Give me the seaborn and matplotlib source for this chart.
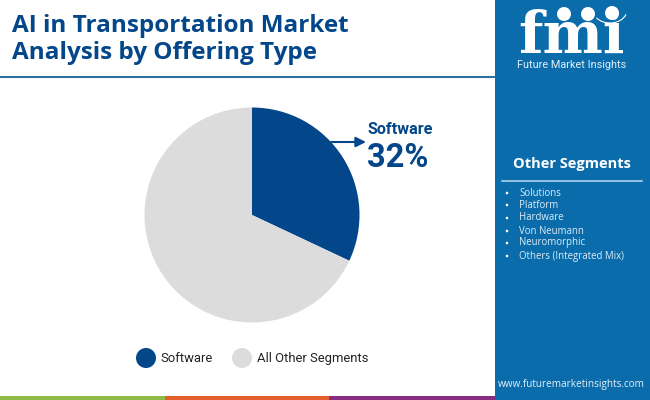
import matplotlib
matplotlib.use("Agg")
import matplotlib.pyplot as plt
from matplotlib.patches import Rectangle, Circle, Ellipse, Arc
import seaborn as sns

categories = ["Software", "All Other Segments"]
shares = [32, 68]
pie_colors = ["#03468a", "#dcdcdc"]
other_segments = ["Solutions", "Platform", "Hardware", "Von Neumann", "Neuromorphic", "Others (Integrated Mix)"]
title_lines = ["AI in Transportation Market", "Analysis by Offering Type"]
NAVY = "#03468a"
PANEL = "#0a6cab"

sns.set_theme(style="white")
plt.rcParams["font.family"] = ["Roboto", "DejaVu Sans"]

fig = plt.figure(figsize=(6.5, 4), dpi=100, facecolor="white")
bg = fig.add_axes([0, 0, 1, 1])
bg.set_xlim(0, 650); bg.set_ylim(400, 0); bg.axis("off")

# pie
axp = fig.add_axes([(252 - 107.5) / 650, 1 - (215 + 107.5) / 400, 215 / 650, 215 / 400])
axp.pie(shares, colors=pie_colors, startangle=90, counterclock=False, radius=1,
        wedgeprops=dict(linewidth=0))
axp.set_xlim(-1, 1); axp.set_ylim(-1, 1); axp.set_aspect("auto")

# panel, rule and footer stripes
bg.add_patch(Rectangle((495, 0), 155, 400, color=PANEL, lw=0))
bg.plot([0, 495], [77, 77], color="#2f6f9f", lw=1.5)
for x, w, c in [(0, 165, "#8fbc45"), (165, 164, "#e35f2c"), (329, 166, "#8a2c82")]:
    bg.add_patch(Rectangle((x, 396), w, 4, color=c, lw=0))

# title
for y, line in zip([26, 53], title_lines):
    bg.text(12, y, line, fontsize=17.5, fontweight="bold", family=["Open Sans", "DejaVu Sans"],
            color=NAVY, va="center", ha="left")

# callout
bg.annotate("", xy=(366, 142), xytext=(331, 142),
            arrowprops=dict(arrowstyle="-|>", color=NAVY, lw=1.5, mutation_scale=15, shrinkA=0, shrinkB=0))
bg.text(368, 130, categories[0], fontsize=11.6, fontweight="bold", color=NAVY, va="center")
bg.text(367, 158, f"{shares[0]}%", fontsize=23.5, fontweight="bold", color=NAVY, va="center")

# legend
for cx, tx, c, label in [(146, 160, pie_colors[0], categories[0]), (242, 257, pie_colors[1], categories[1])]:
    bg.add_patch(Ellipse((cx, 358), 20, 20, color=c, lw=0))
    bg.text(tx, 358.5, label, fontsize=9.4, color="#222222", va="center")

# right panel text
bg.text(572, 164, "Other Segments", fontsize=10.5, fontweight="bold", family=["Open Sans", "DejaVu Sans"],
        color="white", ha="center", va="center")
bg.plot([502, 642], [181, 181], color="#8fc0de", lw=1.5)
for y, s in zip([193, 205, 218, 231, 243, 256], other_segments):
    bg.add_patch(Circle((507, y), 1.3, color="white", lw=0))
    bg.text(519, y, s, fontsize=6.95, color="#dcecf6", family=["Open Sans", "DejaVu Sans"], ha="left", va="center")
bg.text(571, 384, "www.futuremarketinsights.com", fontsize=7.2, color="#e4f0f8",
        family=["Open Sans", "DejaVu Sans"], ha="center", va="center")

# logo
bg.text(571, 53, "fmi", fontsize=41, fontweight="bold", family=["DejaVu Serif"],
        color="white", ha="center", va="baseline")
for y in range(24, 54, 5):
    bg.plot([512, 630], [y, y], color=PANEL, lw=0.7)
for cx, cy in [(564, 14), (588, 14), (612, 13)]:
    bg.add_patch(Circle((cx, cy), 7, color="white", lw=0))
bg.add_patch(Arc((610, 10), 34, 26, theta1=15, theta2=150, color="white", lw=0.8))
bg.text(572, 65.5, "Future Market Insights", fontsize=7.8, color="#e4f0f8", ha="center", va="center")

fig.savefig("out.png", dpi=100)
